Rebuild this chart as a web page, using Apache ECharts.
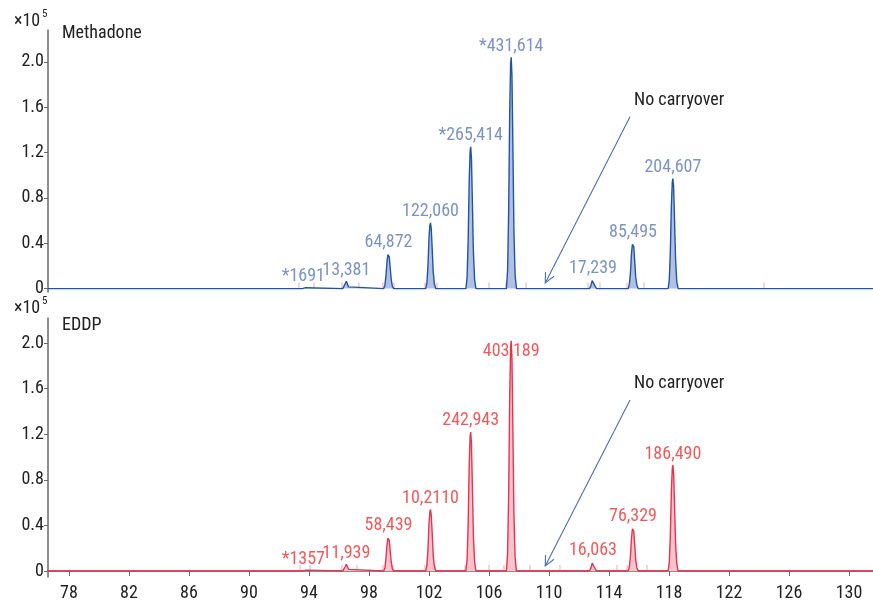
<!DOCTYPE html>
<html>
<head>
<meta charset="utf-8">
<title>Methadone / EDDP chromatograms</title>
<script src="https://cdn.jsdelivr.net/npm/echarts@6/dist/echarts.min.js"></script>
<style>
  html, body { margin: 0; padding: 0; background: #ffffff; }
  #chart { width: 873px; height: 602px; }
</style>
</head>
<body>
<div id="chart"></div>
<script>
// Retention-time axis (min) and intensity axis (x10^5 counts)
const xMin = 76.6;
const xMax = 131.6;
const xTickValues = [78, 82, 86, 90, 94, 98, 102, 106, 110, 114, 118, 122, 126, 130];
const yTickValues = [0, 0.4, 0.8, 1.2, 1.6, 2.0];

// Methadone trace: one point list [time, intensity] per calibration peak
const methadonePeaks = [
  [[93.55, 0], [93.62, 0.008], [93.78, 0.008], [93.85, 0]],
  [[96.25, 0], [96.35, 0.015], [96.42, 0.045], [96.49, 0.065], [96.56, 0.05], [96.64, 0.015], [96.74, 0]],
  [[98.98, 0], [99.06, 0.03], [99.13, 0.11], [99.2, 0.24], [99.26, 0.30], [99.3, 0.31], [99.35, 0.28], [99.41, 0.19], [99.48, 0.08], [99.56, 0.02], [99.65, 0]],
  [[101.78, 0], [101.86, 0.05], [101.93, 0.2], [102.0, 0.45], [102.06, 0.56], [102.1, 0.58], [102.15, 0.53], [102.21, 0.36], [102.28, 0.15], [102.36, 0.04], [102.45, 0]],
  [[104.46, 0], [104.54, 0.1], [104.61, 0.42], [104.68, 0.95], [104.74, 1.21], [104.78, 1.25], [104.83, 1.15], [104.89, 0.78], [104.96, 0.32], [105.04, 0.08], [105.13, 0]],
  [[107.16, 0], [107.24, 0.16], [107.31, 0.68], [107.38, 1.55], [107.44, 1.98], [107.48, 2.04], [107.53, 1.88], [107.59, 1.28], [107.66, 0.52], [107.74, 0.12], [107.83, 0]],
  [[112.7, 0], [112.8, 0.03], [112.88, 0.07], [112.93, 0.08], [113.0, 0.06], [113.08, 0.02], [113.17, 0]],
  [[115.28, 0], [115.36, 0.04], [115.43, 0.14], [115.5, 0.31], [115.56, 0.39], [115.6, 0.40], [115.65, 0.37], [115.71, 0.25], [115.78, 0.1], [115.86, 0.03], [115.95, 0]],
  [[117.94, 0], [118.02, 0.08], [118.09, 0.33], [118.16, 0.74], [118.22, 0.94], [118.26, 0.97], [118.31, 0.89], [118.37, 0.6], [118.44, 0.25], [118.52, 0.06], [118.61, 0]]
];
const methadoneAreas = ['*1691', '13,381', '64,872', '122,060', '*265,414', '*431,614', '17,239', '85,495', '204,607'];
const methadoneMarkers = [93.33, 94.33, 96.2, 97.33, 98.93, 99.67, 101.73, 102.53, 104.53, 106.0, 107.13, 108.47, 112.6, 113.4, 115.2, 116.33, 124.33];

// EDDP trace
const eddpPeaks = [
  [[93.55, 0], [93.62, 0.008], [93.78, 0.008], [93.85, 0]],
  [[96.25, 0], [96.35, 0.015], [96.42, 0.04], [96.49, 0.06], [96.56, 0.045], [96.64, 0.015], [96.74, 0]],
  [[98.98, 0], [99.06, 0.03], [99.13, 0.11], [99.2, 0.23], [99.26, 0.29], [99.3, 0.30], [99.35, 0.27], [99.41, 0.18], [99.48, 0.08], [99.56, 0.02], [99.65, 0]],
  [[101.78, 0], [101.86, 0.05], [101.93, 0.19], [102.0, 0.42], [102.06, 0.52], [102.1, 0.54], [102.15, 0.49], [102.21, 0.34], [102.28, 0.14], [102.36, 0.04], [102.45, 0]],
  [[104.46, 0], [104.54, 0.1], [104.61, 0.41], [104.68, 0.93], [104.74, 1.18], [104.78, 1.22], [104.83, 1.12], [104.89, 0.76], [104.96, 0.31], [105.04, 0.08], [105.13, 0]],
  [[107.16, 0], [107.24, 0.16], [107.31, 0.67], [107.38, 1.53], [107.44, 1.96], [107.48, 2.02], [107.53, 1.86], [107.59, 1.27], [107.66, 0.51], [107.74, 0.12], [107.83, 0]],
  [[112.7, 0], [112.8, 0.03], [112.88, 0.07], [112.93, 0.08], [113.0, 0.06], [113.08, 0.02], [113.17, 0]],
  [[115.28, 0], [115.36, 0.04], [115.43, 0.13], [115.5, 0.29], [115.56, 0.37], [115.6, 0.38], [115.65, 0.35], [115.71, 0.24], [115.78, 0.1], [115.86, 0.03], [115.95, 0]],
  [[117.94, 0], [118.02, 0.08], [118.09, 0.32], [118.16, 0.71], [118.22, 0.9], [118.26, 0.93], [118.31, 0.85], [118.37, 0.58], [118.44, 0.24], [118.52, 0.06], [118.61, 0]]
];
const eddpAreas = ['*1357', '11,939', '58,439', '10,2110', '242,943', '403,189', '16,063', '76,329', '186,490'];
const eddpMarkers = [93.4, 94.07, 96.2, 97.2, 98.93, 99.6, 101.73, 102.4, 104.4, 106.0, 107.0, 108.73, 110.73, 114.53, 115.2, 116.53];

// "No carryover" arrows: [tail, head] in data coordinates
const methadoneArrow = [[115.4, 1.515], [109.75, 0.05]];
const eddpArrow = [[115.4, 1.50], [109.75, 0.045]];

const FONT = "'Liberation Sans Narrow', 'Roboto Condensed', 'DejaVu Sans Condensed', Roboto, sans-serif";
const ARROW_COLOR = '#4a6fb0';

function traceOf(peaks) {
  return [[xMin, 0]].concat(...peaks, [[xMax, 0]]);
}
function apexOf(peaks) {
  return peaks.map(p => p.reduce((a, b) => (b[1] > a[1] ? b : a)));
}

function yAxisFor(gridIndex, min, max) {
  return {
    type: 'value', gridIndex, min, max,
    axisLine: { show: true, lineStyle: { color: '#6a6a6a', width: 1.5 } },
    axisTick: { show: true, length: 4, customValues: yTickValues, lineStyle: { color: '#6a6a6a', width: 1 } },
    axisLabel: {
      customValues: yTickValues, margin: 4, color: '#222', fontSize: 18, fontFamily: FONT,
      formatter: v => (v === 0 ? '0' : v.toFixed(1))
    },
    splitLine: { show: false }
  };
}

function traceSeries(idx, peaks, line, fill) {
  return {
    type: 'line', xAxisIndex: idx, yAxisIndex: idx,
    data: traceOf(peaks), showSymbol: false, symbol: 'none', z: 3, silent: true,
    lineStyle: { color: line, width: 1.4 },
    areaStyle: { color: fill, opacity: 1 }
  };
}

function markerSeries(idx, markers) {
  return {
    type: 'scatter', xAxisIndex: idx, yAxisIndex: idx, z: 2, silent: true,
    data: markers.map(x => [x, 0]),
    symbol: 'rect', symbolSize: [1.3, 6], symbolOffset: [0, -3],
    itemStyle: { color: '#f3a9b6' }
  };
}

// nudges: per-label pixel offsets where a label sits over its peak
function labelSeries(idx, peaks, names, color, nudges) {
  return {
    type: 'scatter', xAxisIndex: idx, yAxisIndex: idx, z: 6, silent: true,
    symbolSize: 0,
    data: apexOf(peaks).map((pt, i) => ({
      value: pt,
      label: nudges[i] ? { offset: nudges[i] } : undefined
    })),
    label: {
      show: true, position: 'top', distance: 2,
      color, fontSize: 18, fontFamily: FONT,
      formatter: p => names[p.dataIndex]
    }
  };
}

// "x10^5" scale note: base text plus a separate superscript
function scaleText(id, top) {
  return [
    { id: id + 'Base', type: 'text', left: 14, top, style: { text: '×10', fill: '#222', fontSize: 18, fontFamily: FONT } },
    { id: id + 'Exp', type: 'text', left: 42, top: top - 3, style: { text: '5', fill: '#222', fontSize: 11, fontFamily: FONT } }
  ];
}

const chart = echarts.init(document.getElementById('chart'), null, { renderer: 'canvas' });

const baseGraphic = [].concat(
  scaleText('scaleTop', 12),
  scaleText('scaleBottom', 299),
  [
    { id: 'nameTop', type: 'text', left: 62, top: 24, style: { text: 'Methadone', fill: '#222', fontSize: 18, fontFamily: FONT } },
    { id: 'nameBottom', type: 'text', left: 62, top: 316, style: { text: 'EDDP', fill: '#222', fontSize: 18, fontFamily: FONT } },
    { id: 'noteTop', type: 'text', left: 634, top: 91, style: { text: 'No carryover', fill: '#222', fontSize: 18, fontFamily: FONT } },
    { id: 'noteBottom', type: 'text', left: 634, top: 374, style: { text: 'No carryover', fill: '#222', fontSize: 18, fontFamily: FONT } }
  ]
);

chart.setOption({
  animation: false,
  backgroundColor: '#ffffff',
  grid: [
    { left: 48, right: 0, top: 30, height: 262 },
    { left: 48, right: 0, top: 318, height: 260 }
  ],
  xAxis: [
    { type: 'value', gridIndex: 0, min: xMin, max: xMax, show: false },
    {
      type: 'value', gridIndex: 1, min: xMin, max: xMax,
      axisLine: { show: true, lineStyle: { color: '#6a6a6a', width: 1.5 } },
      axisTick: { show: true, length: 5, customValues: xTickValues, lineStyle: { color: '#6a6a6a' } },
      axisLabel: { customValues: xTickValues, margin: 7, color: '#222', fontSize: 18, fontFamily: FONT },
      splitLine: { show: false }
    }
  ],
  yAxis: [yAxisFor(0, -0.03, 2.28), yAxisFor(1, -0.052, 2.22)],
  graphic: baseGraphic,
  series: [
    markerSeries(0, methadoneMarkers),
    traceSeries(0, methadonePeaks, '#1f55a0', '#b3c0e6'),
    labelSeries(0, methadonePeaks, methadoneAreas, '#5a78b6', {}),
    markerSeries(1, eddpMarkers),
    traceSeries(1, eddpPeaks, '#e8334d', '#f7c3cc'),
    labelSeries(1, eddpPeaks, eddpAreas, '#ee2f2f', { 5: [0, 22] })
  ]
});

// Open-headed annotation arrows, placed from data coordinates
function arrowGraphics(id, gridIndex, arrow) {
  const tail = chart.convertToPixel({ gridIndex }, arrow[0]);
  const head = chart.convertToPixel({ gridIndex }, arrow[1]);
  const ang = Math.atan2(tail[1] - head[1], tail[0] - head[0]);
  const len = 11, spread = 0.45;
  const armA = [head[0] + len * Math.cos(ang - spread), head[1] + len * Math.sin(ang - spread)];
  const armB = [head[0] + len * Math.cos(ang + spread), head[1] + len * Math.sin(ang + spread)];
  const style = { stroke: ARROW_COLOR, lineWidth: 1.1, fill: null };
  return [
    { id: id + 'Shaft', type: 'line', z: 10, shape: { x1: tail[0], y1: tail[1], x2: head[0], y2: head[1] }, style },
    { id: id + 'Head', type: 'polyline', z: 10, shape: { points: [armA, head, armB] }, style }
  ];
}

chart.setOption({
  graphic: baseGraphic.concat(
    arrowGraphics('arrowTop', 0, methadoneArrow),
    arrowGraphics('arrowBottom', 1, eddpArrow)
  )
});
</script>
</body>
</html>
